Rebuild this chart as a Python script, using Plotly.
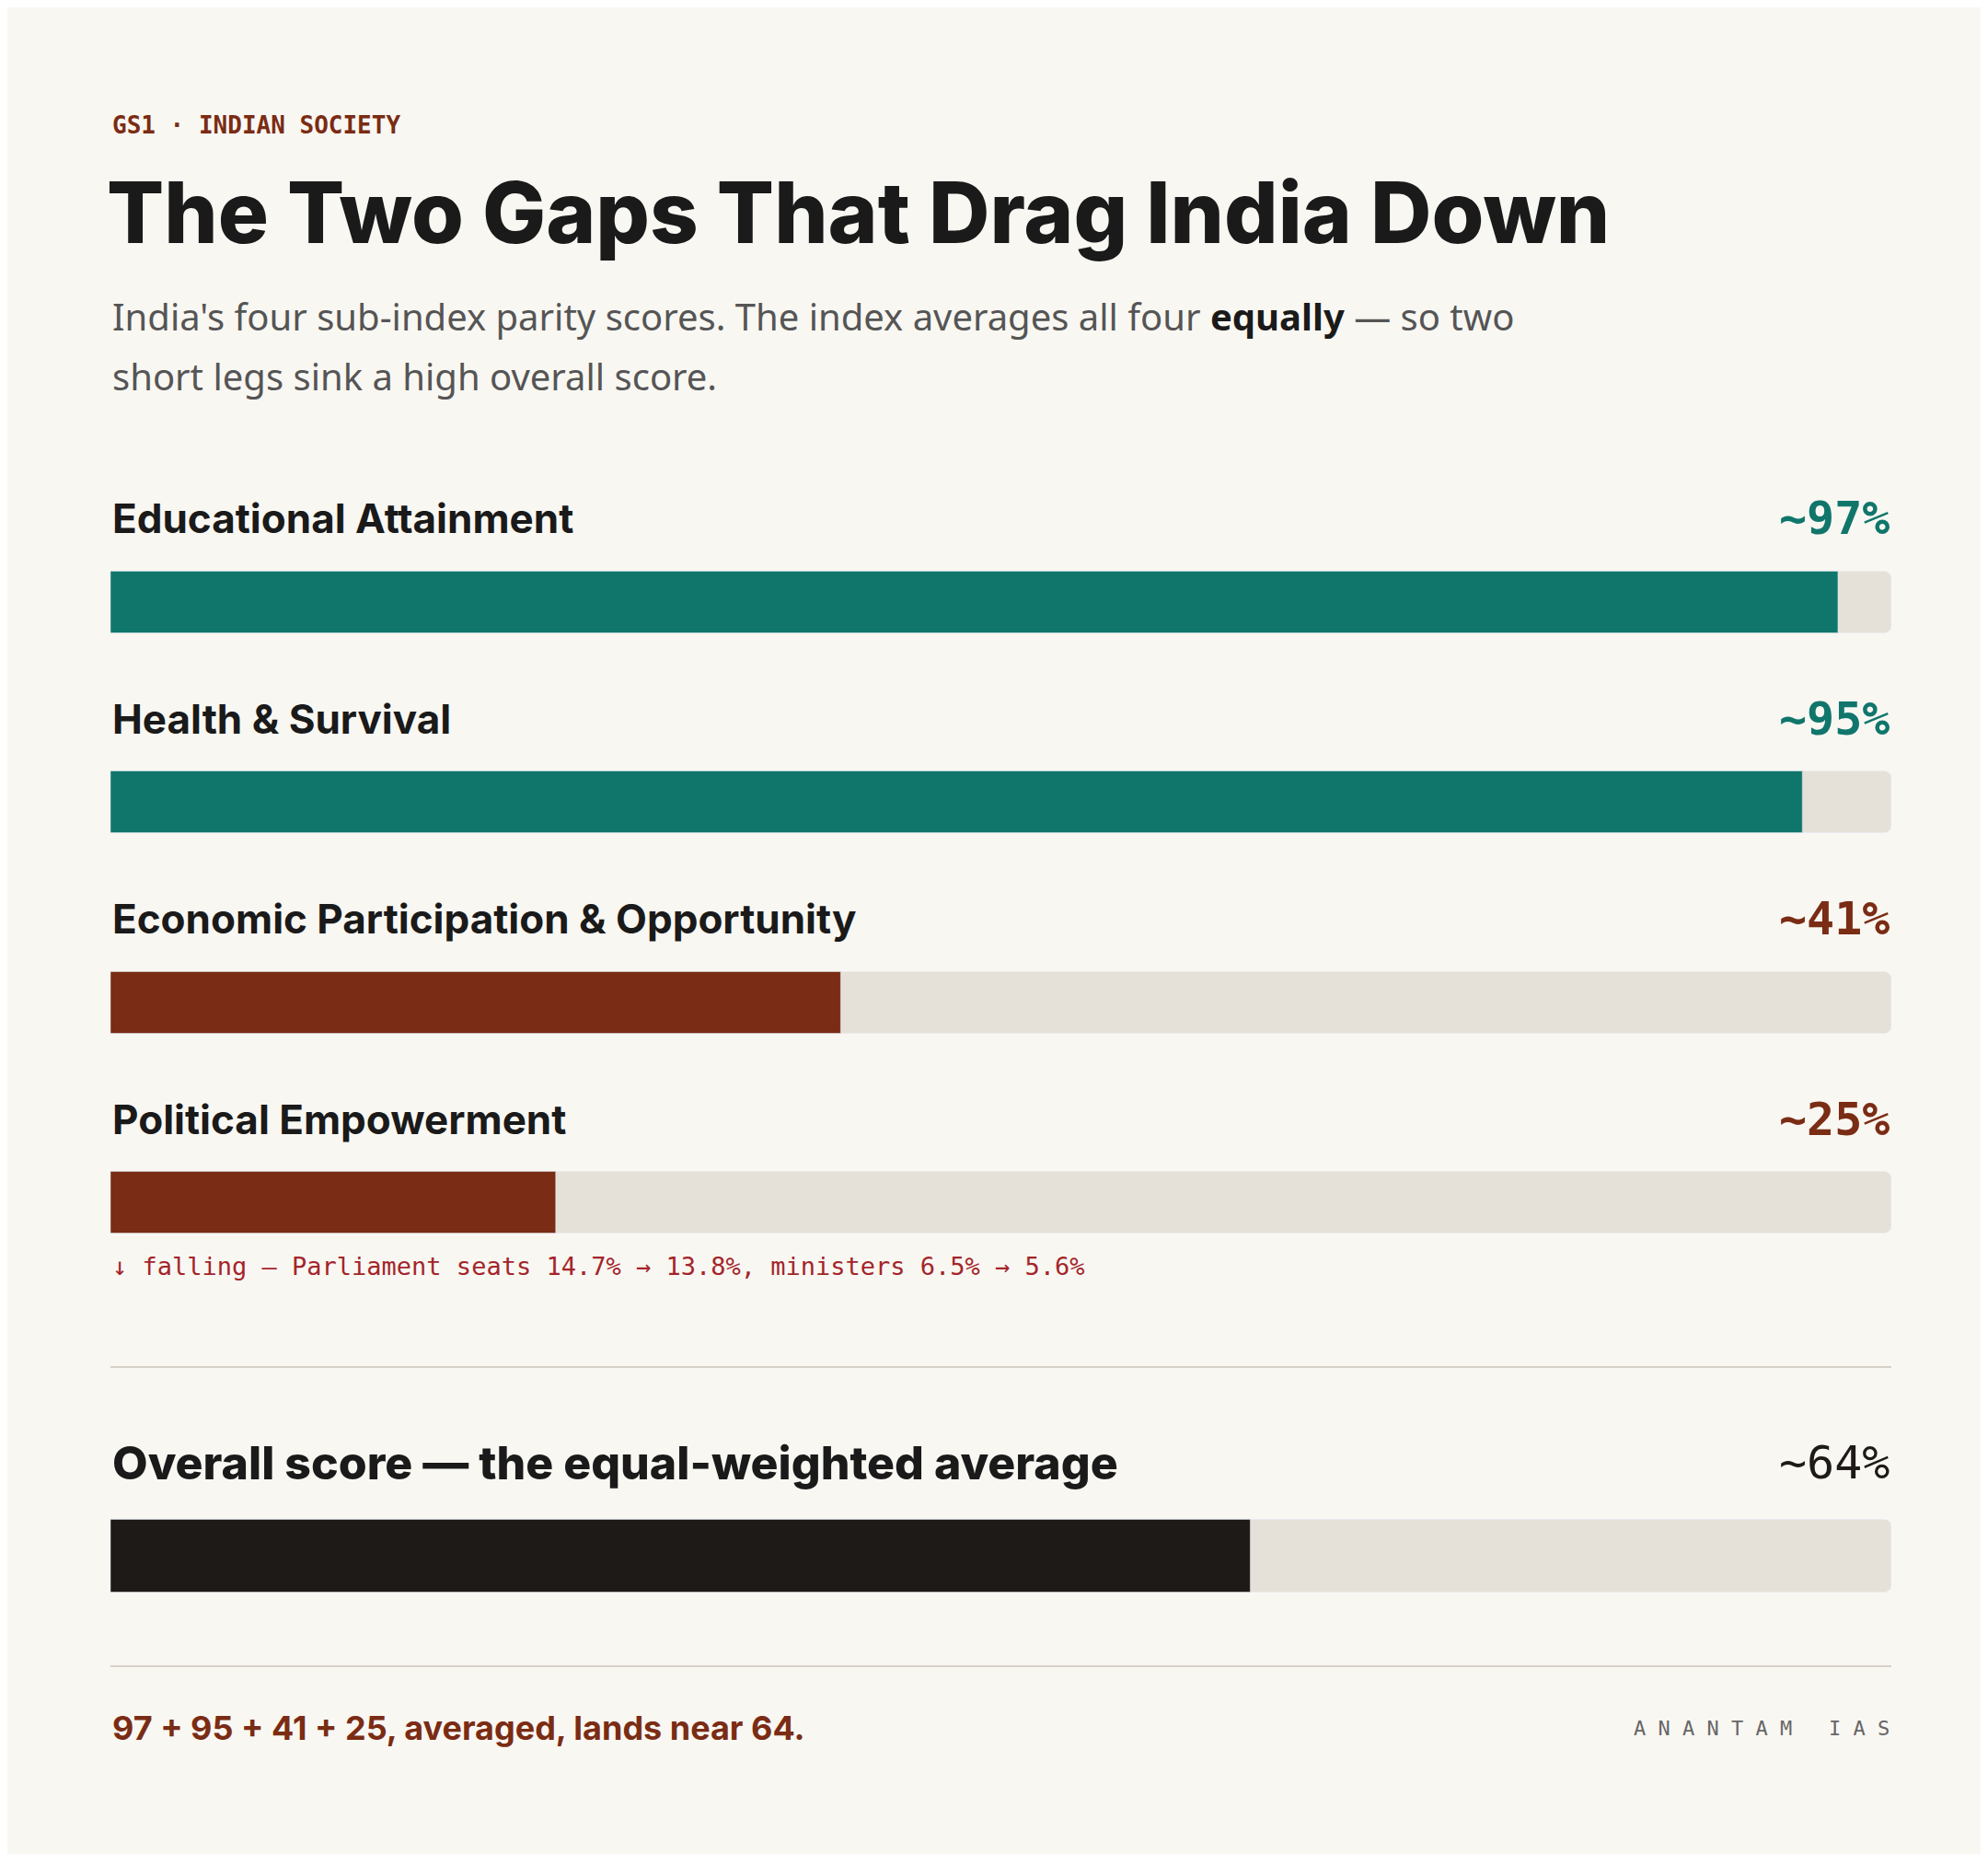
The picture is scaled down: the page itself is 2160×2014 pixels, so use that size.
import plotly.graph_objects as go

# data
categories = ["Educational Attainment", "Health & Survival",
              "Economic Participation & Opportunity", "Political Empowerment"]
scores = [97, 95, 41, 25]
score_labels = ["~97%", "~95%", "~41%", "~25%"]
overall_label = "Overall score — the equal-weighted average"
overall_score = 64
overall_text = "~64%"

BG = "#f9f7f2"
TEAL = "#10766c"
RUST = "#7a2c14"
INK = "#1e1a17"
TRACK = "#e6e1d8"
bar_colors = [TEAL, TEAL, RUST, RUST]

# layout positions (pixels, y axis runs top->bottom)
bar_y = [646, 863, 1081, 1298]
label_y = [555, 773, 990, 1208]
overall_bar_y = 1682
overall_label_y = 1581

W, H = 2160, 2014
X0, X1 = 112 / W, 2047 / W

fig = go.Figure()
# tracks
fig.add_trace(go.Bar(x=[100] * 4, y=bar_y, orientation="h", width=67,
                     marker=dict(color=TRACK, cornerradius=8), hoverinfo="skip"))
fig.add_trace(go.Bar(x=[100], y=[overall_bar_y], orientation="h", width=79,
                     marker=dict(color=TRACK, cornerradius=8), hoverinfo="skip"))
# values
fig.add_trace(go.Bar(x=scores, y=bar_y, orientation="h", width=67,
                     marker=dict(color=bar_colors, cornerradius=8)))
fig.add_trace(go.Bar(x=[overall_score], y=[overall_bar_y], orientation="h", width=79,
                     marker=dict(color=INK, cornerradius=8)))

title_font = "Inter"
ann = []
def txt(text, x, y, size, color, family, anchor="left", weight=None):
    f = dict(size=size, color=color, family=family)
    if weight:
        f["weight"] = weight
    ann.append(dict(text=text, x=x, y=y, xref="paper", yref="y", xanchor=anchor,
                    yanchor="middle", showarrow=False, font=f))

txt("GS1 · INDIAN SOCIETY", X0, 128, 26, RUST, "DejaVu Sans Mono", weight=700)
txt("The Two Gaps That Drag India Down", X0 - 0.003, 222, 92, "#1a1a1a", title_font, weight=800)
txt("India's four sub-index parity scores. The index averages all four <b style='color:#1a1a1a'>equally</b> — so two",
    X0, 335, 40, "#555555", "Noto Sans")
txt("short legs sink a high overall score.", X0, 400, 40, "#555555", "Noto Sans")

for c, lab, y, col in zip(categories, score_labels, label_y, bar_colors):
    txt(c, X0, y, 44, "#1a1a1a", title_font, weight=700)
    txt(lab, X1, y, 50, col, "DejaVu Sans Mono", anchor="right", weight=700)

txt("↓ falling — Parliament seats 14.7% → 13.8%, ministers 6.5% → 5.6%",
    X0, 1367, 27, "#a3252a", "DejaVu Sans Mono")
txt(overall_label, X0, overall_label_y, 50, "#1a1a1a", title_font, weight=800)
txt(overall_text, X1, overall_label_y, 50, INK, "DejaVu Sans Mono", anchor="right")
txt("97 + 95 + 41 + 25, averaged, lands near 64.", X0, 1869, 36, RUST, title_font, weight=700)
txt("A N A N T A M   I A S", X1, 1869, 22, "#666666", "DejaVu Sans Mono", anchor="right")

shapes = [dict(type="line", xref="paper", yref="y", x0=X0, x1=X1, y0=yy, y1=yy,
               line=dict(color="#d6d1c8", width=2)) for yy in (1477, 1802)]

fig.update_layout(width=W, height=H, margin=dict(l=0, r=0, t=0, b=0),
                  paper_bgcolor=BG, plot_bgcolor=BG, barmode="overlay",
                  showlegend=False, annotations=ann, shapes=shapes,
                  xaxis=dict(domain=[X0, X1], range=[0, 100], visible=False, fixedrange=True),
                  yaxis=dict(domain=[0, 1], range=[H, 0], visible=False, fixedrange=True))
fig.write_html("out.html")
